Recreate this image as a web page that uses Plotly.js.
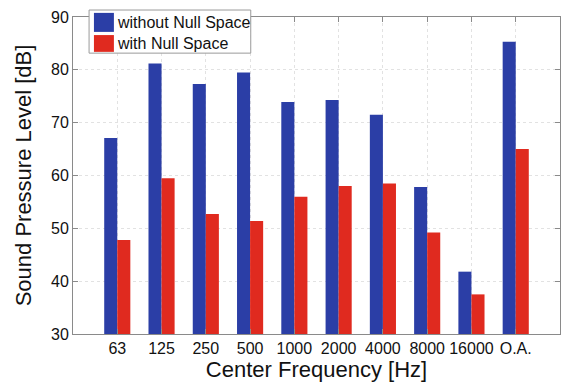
<!DOCTYPE html>
<html>
<head>
<meta charset="utf-8">
<script src="https://cdn.plot.ly/plotly-3.0.1.min.js"></script>
<style>html,body{margin:0;padding:0;background:#fff;}#chart{width:572px;height:385px;}</style>
</head>
<body>
<div id="chart"></div>
<script>
const categories = ["63","125","250","500","1000","2000","4000","8000","16000","O.A."];
const withoutNull = [67.1, 81.2, 77.3, 79.5, 73.9, 74.3, 71.5, 57.8, 41.8, 85.3];
const withNull = [47.8, 59.5, 52.7, 51.4, 56.0, 58.0, 58.5, 49.2, 37.5, 65.0];
const seriesNames = ["without Null Space", "with Null Space"];
const colors = ["#2b3ea6", "#e02a1f"];
const axisFloor = 30;

const font = "Liberation Sans, Arial, Helvetica, sans-serif";
const traces = [
  {type:"bar", x:categories, y:withoutNull.map(v => v - axisFloor), base:axisFloor, customdata:withoutNull,
   name:seriesNames[0], marker:{color:colors[0], line:{width:0}}},
  {type:"bar", x:categories, y:withNull.map(v => v - axisFloor), base:axisFloor, customdata:withNull,
   name:seriesNames[1], marker:{color:colors[1], line:{width:0}}}
];
traces.forEach(t => { t.hovertemplate = "%{x}: %{customdata}<extra></extra>"; });

const shapes = [
  {type:"rect", xref:"paper", yref:"paper", x0:0.033, x1:0.365, y0:0.886, y1:1.022, line:{color:"#9a9a9a", width:1}, fillcolor:"#ffffff", layer:"above"},
  {type:"rect", xref:"paper", yref:"paper", x0:0.043, x1:0.084, y0:0.953, y1:1.013, line:{width:0}, fillcolor:colors[0], layer:"above"},
  {type:"rect", xref:"paper", yref:"paper", x0:0.043, x1:0.084, y0:0.890, y1:0.943, line:{width:0}, fillcolor:colors[1], layer:"above"}
];
const annotations = [
  {xref:"paper", yref:"paper", x:0.086, y:0.983, xanchor:"left", yanchor:"middle", text:seriesNames[0], showarrow:false, font:{family:font, size:16, color:"#111"}},
  {xref:"paper", yref:"paper", x:0.086, y:0.916, xanchor:"left", yanchor:"middle", text:seriesNames[1], showarrow:false, font:{family:font, size:16, color:"#111"}}
];

const layout = {
  width:572, height:385,
  margin:{l:73, r:12, t:17, b:51},
  paper_bgcolor:"#fff", plot_bgcolor:"#fff",
  showlegend:false,
  barmode:"group", bargap:0.41, bargroupgap:0,
  font:{family:font, color:"#111"},
  xaxis:{
    type:"category", range:[-1, 10],
    showline:true, linecolor:"#8a8a8a", linewidth:1, mirror:"ticks",
    ticks:"inside", ticklen:5, tickcolor:"#8a8a8a",
    showgrid:true, gridcolor:"#e2e2e2", griddash:"dot", gridwidth:1,
    tickfont:{family:font, size:16, color:"#111"},
    title:{text:"Center Frequency [Hz]", font:{family:font, size:22, color:"#111"}, standoff:3},
    automargin:false, zeroline:false
  },
  yaxis:{
    range:[30, 90], dtick:10,
    showline:true, linecolor:"#8a8a8a", linewidth:1, mirror:"ticks",
    ticks:"inside", ticklen:5, tickcolor:"#8a8a8a",
    showgrid:true, gridcolor:"#e2e2e2", griddash:"dot", gridwidth:1,
    tickfont:{family:font, size:16, color:"#111"},
    title:{text:"Sound Pressure Level [dB]", font:{family:font, size:22, color:"#111"}, standoff:13},
    automargin:false, zeroline:false
  },
  shapes:shapes, annotations:annotations
};
Plotly.newPlot("chart", traces, layout, {displayModeBar:false, staticPlot:true});
</script>
</body>
</html>
